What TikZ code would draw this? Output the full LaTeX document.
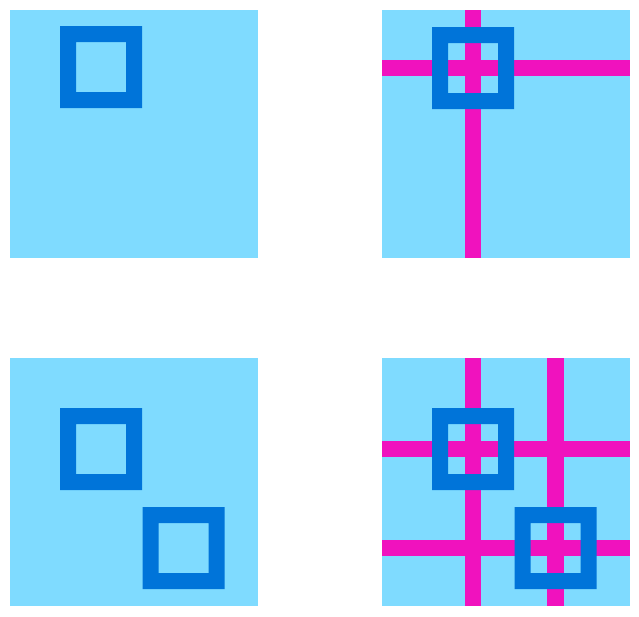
\documentclass[tikz,border=0pt]{standalone}
\definecolor{aqua}{HTML}{7FDBFF}
\definecolor{bluec}{HTML}{0074D9}
\definecolor{fuchsia}{HTML}{F012BE}
\tikzset{
  panel/.style={fill=aqua},
  ring/.style={fill=bluec, even odd rule},
  band/.style={fill=fuchsia}
}
\begin{document}
\begin{tikzpicture}[x=1pt,y=-1pt]
\useasboundingbox (0,0) rectangle (639,616);
% panel 1
\fill[panel] (10,10) rectangle (258,258);
\fill[ring] (60,26) rectangle (142,108) (76,42) rectangle (126,92);
% panel 2
\fill[panel] (382,10) rectangle (630,258);
\fill[band] (465,10) rectangle (481,258);
\fill[band] (382,60) rectangle (630,76);
\fill[ring] (432,27) rectangle (514,109) (448,43) rectangle (498,93);
% panel 3
\fill[panel] (10,358) rectangle (258,606);
\fill[ring] (60,408) rectangle (142,490) (76,424) rectangle (126,474);
\fill[ring] (142.5,507) rectangle (224.5,589) (158.5,523) rectangle (208.5,573);
% panel 4
\fill[panel] (382,358) rectangle (630,606);
\fill[band] (465,358) rectangle (481,606);
\fill[band] (547,358) rectangle (563.5,606);
\fill[band] (382,441) rectangle (630,457);
\fill[band] (382,540) rectangle (630,556);
\fill[ring] (432,408) rectangle (514,490) (448,424) rectangle (498,474);
\fill[ring] (514.5,507) rectangle (596.5,589) (530.5,523) rectangle (580.5,573);
\end{tikzpicture}
\end{document}
